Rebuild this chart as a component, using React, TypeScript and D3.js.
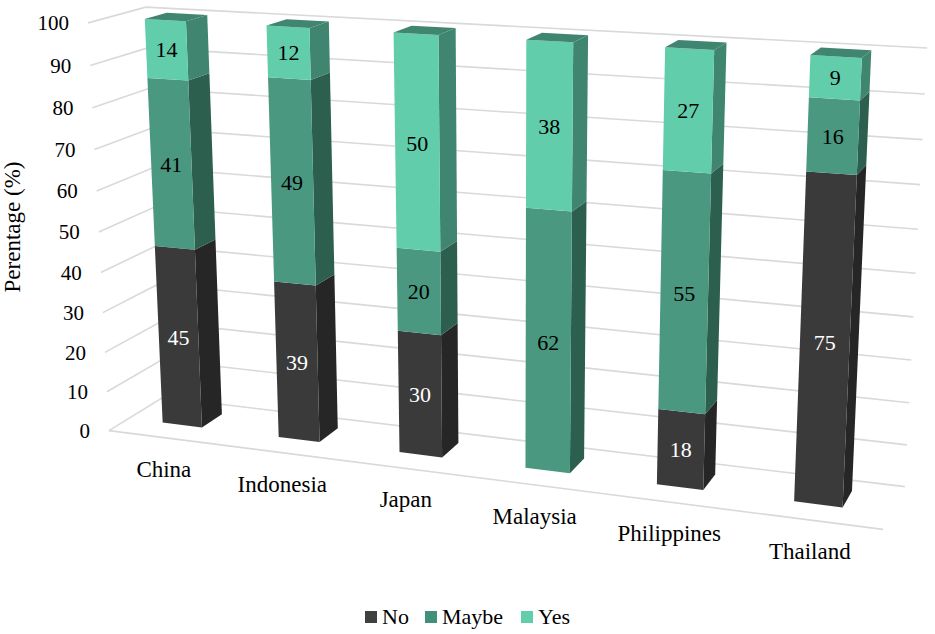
//@ts-nocheck
import * as d3 from "d3";

const width = 935;
const height = 634;

const categories = ["China", "Indonesia", "Japan", "Malaysia", "Philippines", "Thailand"];
const keys = ["No", "Maybe", "Yes"];
const noValues = [45, 39, 30, 0, 18, 75];
const maybeValues = [41, 49, 20, 62, 55, 16];
const yesValues = [14, 12, 50, 38, 27, 9];
const yTicks = [0, 10, 20, 30, 40, 50, 60, 70, 80, 90, 100];

const frontColor = { No: "#3a3a3a", Maybe: "#4a9880", Yes: "#62cdab" };
const sideColor = { No: "#262626", Maybe: "#2d5f4e", Yes: "#408570" };
const legendColor = { No: "#404040", Maybe: "#42907a", Yes: "#62cdab" };
const textColor = { No: "#ffffff", Maybe: "#000000", Yes: "#000000" };
const gridColor = "#d9d9d9";
const font = "'Liberation Serif', serif";

// box corners (u, v, d) -> where they land on screen, the perspective is fitted from these
const calibration = [
  [0, 0, 0, 110, 430],
  [1, 0, 0, 883, 530],
  [0, 0, 1, 162, 398],
  [1, 0, 1, 905, 486],
  [0, 1, 1, 147, 7],
  [1, 1, 1, 927, 48],
  [0, 1, 0, 87, 23],
];

function fitProjection(pts) {
  const rows = [];
  pts.forEach(([u, v, d, X, Y]) => {
    rows.push([u, v, d, 1, 0, 0, 0, 0, -X * u, -X * v, -X * d, X]);
    rows.push([0, 0, 0, 0, u, v, d, 1, -Y * u, -Y * v, -Y * d, Y]);
  });
  const n = 11;
  const A = d3.range(n).map((i) =>
    d3.range(n + 1).map((j) => d3.sum(rows, (r) => r[i] * r[j === n ? 11 : j])),
  );
  for (let i = 0; i < n; i++) {
    let p = i;
    for (let k = i + 1; k < n; k++) if (Math.abs(A[k][i]) > Math.abs(A[p][i])) p = k;
    [A[i], A[p]] = [A[p], A[i]];
    for (let k = 0; k < n; k++) {
      if (k === i) continue;
      const f = A[k][i] / A[i][i];
      for (let j = i; j <= n; j++) A[k][j] -= f * A[i][j];
    }
  }
  return A.map((r, i) => r[n] / r[i]);
}

const m = fitProjection(calibration);
const project = (u, v, d) => {
  const w = m[8] * u + m[9] * v + m[10] * d + 1;
  return [(m[0] * u + m[1] * v + m[2] * d + m[3]) / w, (m[4] * u + m[5] * v + m[6] * d + m[7]) / w];
};

const x = d3.scaleBand(categories, [0, 1]).paddingInner(0.657).paddingOuter(0.318).align(0.468);
const y = d3.scaleLinear([0, 100], [0, 1]);
const depth = [0.36, 0.75];

const rowsData = categories.map((c, i) => ({
  category: c,
  No: noValues[i],
  Maybe: maybeValues[i],
  Yes: yesValues[i],
}));
const series = d3.stack().keys(keys)(rowsData);
const poly = d3.line().curve(d3.curveLinearClosed);

function quad(a, b, c, e) {
  return poly([a, b, c, e]);
}

export default function App() {
  return (
    <svg
      width={width}
      height={height}
      style={{ position: "absolute", left: 0, top: 0, background: "#fff", fontFamily: font }}
    >
      <g stroke={gridColor} strokeWidth="1.6" fill="none">
        {yTicks.map((t) => (
          <path
            key={t}
            d={d3.line()([project(0, y(t), 0), project(0, y(t), 1), project(1, y(t), 1)])}
          />
        ))}
        <path d={d3.line()([project(0, 0, 0), project(1, 0, 0)])} />
      </g>

      {yTicks.map((t) => {
        const [px, py] = project(0, y(t), 0);
        return (
          <text key={t} x={px - 19} y={py} dy="0.35em" textAnchor="end" fontSize="21" fill="#000">
            {t}
          </text>
        );
      })}
      <text transform="translate(20,227) rotate(-90)" textAnchor="middle" fontSize="23" fill="#000">
        Perentage (%)
      </text>

      {series.map((s) =>
        s.map((seg) => {
          const c = seg.data.category;
          const u0 = x(c);
          const u1 = u0 + x.bandwidth();
          const v0 = y(seg[0]);
          const v1 = y(seg[1]);
          if (seg[1] === seg[0]) return null;
          return (
            <g key={s.key + c}>
              <path
                d={quad(project(u1, v0, depth[0]), project(u1, v0, depth[1]), project(u1, v1, depth[1]), project(u1, v1, depth[0]))}
                fill={sideColor[s.key]}
              />
              <path
                d={quad(project(u0, v0, depth[0]), project(u1, v0, depth[0]), project(u1, v1, depth[0]), project(u0, v1, depth[0]))}
                fill={frontColor[s.key]}
              />
              {seg[1] === 100 && (
                <path
                  d={quad(project(u0, v1, depth[0]), project(u1, v1, depth[0]), project(u1, v1, depth[1]), project(u0, v1, depth[1]))}
                  fill={sideColor[s.key]}
                />
              )}
            </g>
          );
        }),
      )}

      {series.map((s) =>
        s.map((seg) => {
          const c = seg.data.category;
          if (seg[1] === seg[0]) return null;
          const [px, py] = project(x(c) + x.bandwidth() / 2, y((seg[0] + seg[1]) / 2), depth[0]);
          return (
            <text
              key={s.key + c}
              x={px}
              y={py}
              dy="0.35em"
              textAnchor="middle"
              fontSize="22"
              fill={textColor[s.key]}
            >
              {seg[1] - seg[0]}
            </text>
          );
        }),
      )}

      {categories.map((c) => {
        const [px, py] = project(x(c) + x.bandwidth() / 2, 0, 0);
        return (
          <text key={c} x={px + 1} y={py + 39} textAnchor="middle" fontSize="23" fill="#000">
            {c}
          </text>
        );
      })}

      {keys.map((k, i) => {
        const lx = [365, 425, 521][i];
        return (
          <g key={k}>
            <rect x={lx} y={611} width={12} height={12} fill={legendColor[k]} />
            <text x={lx + 17} y={624} fontSize="22" fill="#000">
              {k}
            </text>
          </g>
        );
      })}
    </svg>
  );
}
